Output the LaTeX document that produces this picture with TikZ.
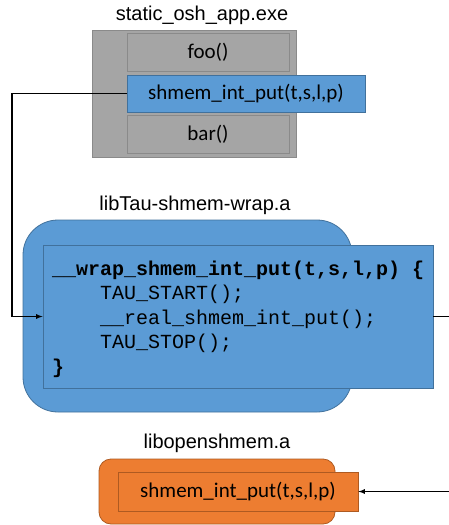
\documentclass[tikz,border=0pt]{standalone}
\usepackage{fontspec}
\setmainfont{Liberation Sans}
\newfontfamily\boxfont{Carlito}
\newfontfamily\codefont{Liberation Mono}
\usetikzlibrary{calc}
\definecolor{appgray}{HTML}{A5A5A5}
\definecolor{appline}{HTML}{8A8A8A}
\definecolor{taublue}{HTML}{5B9BD5}
\definecolor{taublueline}{HTML}{41719C}
\definecolor{oshorange}{HTML}{ED7D31}
\definecolor{oshline}{HTML}{AE5A21}
\tikzset{
% Boxes for the binaries and the functions inside them
func box/.style={rectangle,draw,line width=0.8,inner sep=0,font=\boxfont\fontsize{21}{24}\selectfont},
lib title/.style={inner sep=0,font=\fontsize{20}{24}\selectfont},
call/.style={line width=1.2,-latex}
}

\begin{document}
\begin{tikzpicture}[x=1pt,y=-1pt]
      \useasboundingbox (0,0) rectangle (449,525);
      % The executable
      \node(exe)[func box,fill=appgray,draw=appline,minimum width=204,minimum height=127] at (194,93.5) {};
      \node(exe title)[lib title] at (202,15) {static\_osh\_app.exe};
      \node(foo)[func box,fill=appgray,draw=appline,minimum width=162,minimum height=38] at (208,52) {foo()};
      \node(put)[func box,fill=taublue,draw=taublueline,minimum width=238,minimum height=37] at (246,93.5) {shmem\_int\_put(t,s,l,p)};
      \node(bar)[func box,fill=appgray,draw=appline,minimum width=162,minimum height=38] at (208,134) {bar()};
      % The wrapper library
      \node(wrap)[func box,fill=taublue,draw=taublueline,rounded corners=35,minimum width=329,minimum height=192] at (187.5,316) {};
      \node(wrap title)[lib title] at (195,205) {libTau-shmem-wrap.a};
      \node(code)[func box,fill=taublue,draw=taublueline,minimum width=390,minimum height=143] at (238,316.5) {};
      \node(src)[anchor=west,align=left,inner sep=0,font=\codefont\fontsize{20}{24.5}\selectfont] at (52,319) {%
        \textbf{\_\_wrap\_shmem\_int\_put(t,s,l,p) \{}\\
        \hspace*{48pt}TAU\_START();\\
        \hspace*{48pt}\_\_real\_shmem\_int\_put();\\
        \hspace*{48pt}TAU\_STOP();\\
        \textbf{\}}};
      % The OpenSHMEM library
      \node(osh)[func box,fill=oshorange,draw=oshline,rounded corners=12,minimum width=236,minimum height=65] at (217,491.5) {};
      \node(osh title)[lib title] at (217,443) {libopenshmem.a};
      \node(real)[func box,fill=oshorange,draw=oshline,minimum width=240,minimum height=39] at (238,491.5) {shmem\_int\_put(t,s,l,p)};
      % Calls: app -> wrapper -> library
      \coordinate (left turn) at (12,0);
      \coordinate (right turn) at (462,0);
      \draw[call] (put.west) -- (put.west -| left turn) |- (code.west);
      \draw[call] (code.east) -- (code.east -| right turn) |- (real.east);
\end{tikzpicture}
\end{document}
